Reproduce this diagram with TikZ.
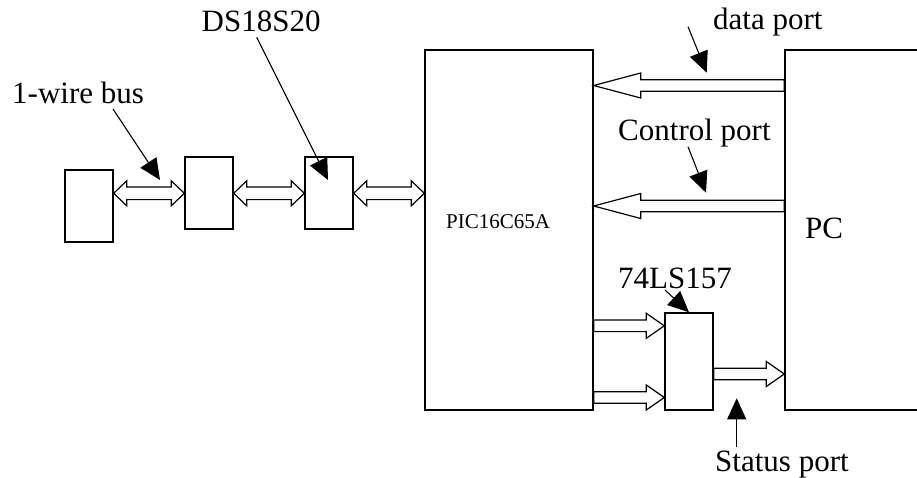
\documentclass[tikz,border=0pt]{standalone}
\usepackage{fontspec}
\setmainfont{Liberation Serif}
\usetikzlibrary{arrows.meta,calc}
\newcommand\dblarr[2]{%
 \draw[bus] (#1) -- ($(#1)+(13,-12.5)$) -- ($(#1)+(13,-6.3)$) -- ($(#2)+(-13,-6.3)$) -- ($(#2)+(-13,-12.5)$) -- (#2) -- ($(#2)+(-13,12.5)$) -- ($(#2)+(-13,6.3)$) -- ($(#1)+(13,6.3)$) -- ($(#1)+(13,12.5)$) -- cycle;}
\newcommand\sglarr[3]{%
 \draw[bus] ($(#1)+(0,-5.8)$) -- ($(#2)+(#3,-5.8)$) -- ($(#2)+(#3,-12.5)$) -- (#2) -- ($(#2)+(#3,12.5)$) -- ($(#2)+(#3,5.8)$) -- ($(#1)+(0,5.8)$) -- cycle;}
\tikzset{
 box/.style={draw, line width=1.4pt, inner sep=0pt, fill=white},
 bus/.style={draw, line width=1.2pt, fill=white, line join=miter},
 ptr/.style={line width=1.1pt, -{Triangle[length=21pt,width=19pt]}},
 lbl/.style={inner sep=0pt, anchor=base west, font=\fontsize{31}{31}\selectfont},
}
\begin{document}
\begin{tikzpicture}[x=1pt,y=-1pt]
\useasboundingbox (0,0) rectangle (917,477);
\clip (0,0) rectangle (917,477);
\fill[white] (0,0) rectangle (917,477);
% boxes
\node[box, minimum width=48, minimum height=72] (A) at (89,206) {};
\node[box, minimum width=48, minimum height=72] (B) at (209,193) {};
\node[box, minimum width=48, minimum height=72] (C) at (329,193) {};
\node[box, minimum width=168, minimum height=360] (PIC) at (509,230) {};
\node[box, minimum width=200, minimum height=360] (PC) at (885,230) {};
\node[box, minimum width=48, minimum height=97] (MUX) at (689,361.5) {};
% texts
\node[inner sep=0pt, anchor=base west, font=\fontsize{21}{21}\selectfont] (piclbl) at (446,228.3) {PIC16C65A};
\node[lbl] (pclbl) at (805,238.3) {PC};
\node[lbl] (wirelbl) at (12,103.3) {1-wire bus};
\node[lbl] (dslbl) at (201.5,31.7) {DS18S20};
\node[lbl] (datalbl) at (713,29) {data port};
\node[lbl] (ctrllbl) at (618,140) {Control port};
\node[lbl] (muxlbl) at (618,288.3) {74LS157};
\node[lbl] (statlbl) at (715,471.5) {Status port};
% double arrows
\coordinate (ab1) at (A.east |- 0,193.3);
\coordinate (ab2) at (B.west |- 0,193.3);
\coordinate (bc1) at (B.east |- 0,193.3);
\coordinate (bc2) at (C.west |- 0,193.3);
\coordinate (cp1) at (C.east |- 0,193.3);
\coordinate (cp2) at (PIC.west |- 0,193.3);
\dblarr{ab1}{ab2}
\dblarr{bc1}{bc2}
\dblarr{cp1}{cp2}
% port arrows
\coordinate (d1) at (PC.west |- 0,85.5);
\coordinate (d2) at (PIC.east |- 0,85.5);
\coordinate (c1) at (PC.west |- 0,206);
\coordinate (c2) at (PIC.east |- 0,206);
\coordinate (i1a) at (PIC.east |- 0,325.8);
\coordinate (i1b) at (MUX.west |- 0,325.8);
\coordinate (i2a) at (PIC.east |- 0,397.5);
\coordinate (i2b) at (MUX.west |- 0,397.5);
\coordinate (o1) at (MUX.east |- 0,374);
\coordinate (o2) at (PC.west |- 0,374);
\sglarr{d1}{d2}{47}
\sglarr{c1}{c2}{47}
\sglarr{i1a}{i1b}{-18}
\sglarr{i2a}{i2b}{-18}
\sglarr{o1}{o2}{-18}
% pointers
\coordinate (pw1) at (113,109);
\coordinate (pw2) at (160,180);
\coordinate (pd1) at (256.7,37.3);
\coordinate (pd2) at (328,180);
\coordinate (pa1) at (688,26.7);
\coordinate (pa2) at (706.7,72.7);
\coordinate (pc1) at (688,146.7);
\coordinate (pc2) at (706,192.7);
\coordinate (pm1) at (665,290);
\coordinate (ps1) at (736.7,446.7);
\coordinate (ps2) at (736.7,398.3);
\draw[ptr] (pw1) -- (pw2);
\draw[ptr] (pd1) -- (pd2);
\draw[ptr] (pa1) -- (pa2);
\draw[ptr] (pc1) -- (pc2);
\draw[ptr] (pm1) -- (MUX.north);
\draw[ptr] (ps1) -- (ps2);
\end{tikzpicture}
\end{document}
